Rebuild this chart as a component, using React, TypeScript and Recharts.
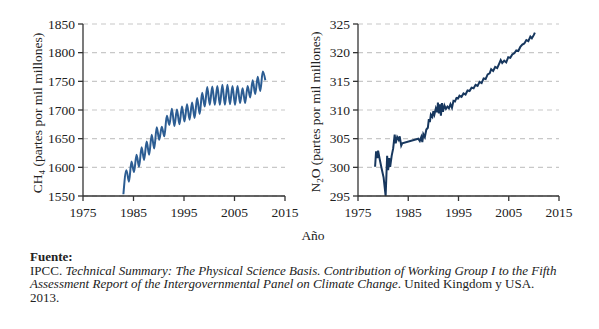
import React from "react";
import {
  LineChart,
  Line,
  XAxis,
  YAxis,
  CartesianGrid,
} from "recharts";

// CH4: one trough (start of year) and one peak (mid-year) per year
const ch4Years = [
  1983, 1984, 1985, 1986, 1987, 1988, 1989, 1990, 1991, 1992, 1993, 1994,
  1995, 1996, 1997, 1998, 1999, 2000, 2001, 2002, 2003, 2004, 2005, 2006,
  2007, 2008, 2009, 2010,
];
const ch4Low = [
  1553, 1575, 1592, 1601, 1613, 1622, 1633, 1648, 1654, 1674, 1672, 1675,
  1680, 1683, 1686, 1693, 1706, 1709, 1709, 1709, 1709, 1710, 1709, 1712,
  1712, 1722, 1728, 1733,
];
const ch4High = [
  1595, 1610, 1622, 1635, 1645, 1657, 1670, 1671, 1690, 1702, 1701, 1706,
  1710, 1713, 1721, 1730, 1740, 1741, 1742, 1744, 1744, 1742, 1742, 1738,
  1742, 1752, 1758, 1767,
];
const ch4End = { year: 2011.1, v: 1752 };

const n2oYears = [
  1978.4, 1978.6, 1978.8, 1979.0, 1979.3, 1979.7, 1980.1, 1980.5, 1980.8, 1981.0,
  1981.2, 1981.4, 1981.7, 1982.0, 1982.3, 1982.5, 1982.8, 1983.1, 1983.3, 1983.6,
  1983.8, 1987.0, 1987.3, 1987.6, 1987.8, 1988.0, 1988.3, 1988.6, 1988.9, 1989.1,
  1989.3, 1989.5, 1989.8, 1990.0, 1990.2, 1990.5, 1990.8, 1990.9, 1991.1, 1991.3,
  1991.5, 1991.7, 1991.9, 1992.2, 1992.5, 1992.8, 1993.1, 1993.4, 1993.7, 1994.0,
  1994.3, 1994.6, 1994.9, 1995.2, 1995.6, 1996.0, 1996.4, 1996.8, 1997.2, 1997.6,
  1998.0, 1998.4, 1998.8, 1999.2, 1999.6, 2000.0, 2000.4, 2000.8, 2001.2, 2001.5,
  2001.9, 2002.3, 2002.7, 2003.1, 2003.4, 2003.7, 2004.1, 2004.5, 2004.9, 2005.3,
  2005.7, 2006.1, 2006.5, 2006.9, 2007.3, 2007.7, 2008.1, 2008.5, 2008.9, 2009.3,
  2009.6, 2010.0, 2010.2,
];
const n2oValues = [
  300.1, 302.8, 301.6, 302.9, 301.5, 299.8, 298.2, 295.0, 302.0, 299.5,
  301.6, 300.1, 302.0, 303.3, 305.7, 304.2, 305.3, 304.8, 305.4, 303.8,
  304.2, 305.0, 304.6, 305.3, 304.4, 305.8, 305.3, 306.6, 306.9, 308.4,
  307.9, 309.2, 308.8, 309.8, 309.2, 310.3, 309.6, 311.3, 309.4, 311.0,
  309.0, 311.2, 309.7, 310.8, 310.2, 310.6, 310.3, 311.0, 310.4, 311.6,
  311.5, 312.1, 312.0, 312.5, 312.3, 312.9, 312.7, 313.4, 313.3, 313.9,
  313.8, 314.4, 314.2, 314.9, 314.7, 315.5, 315.4, 316.2, 316.4, 317.1,
  316.8, 317.5, 317.3, 318.1, 318.7, 318.2, 318.6, 318.3, 319.2, 319.1,
  319.7, 319.9, 320.4, 320.3, 321.0, 321.4, 321.6, 322.2, 322.0, 322.8,
  322.5, 323.1, 323.5,
];

const yearTicks = [1975, 1985, 1995, 2005, 2015];
const ch4Ticks = [1550, 1600, 1650, 1700, 1750, 1800, 1850];
const n2oTicks = [295, 300, 305, 310, 315, 320, 325];

const ch4Data: { year: number; v: number }[] = [];
ch4Years.forEach((y, i) => {
  ch4Data.push({ year: y === 1983 ? y : y + 0.1, v: ch4Low[i] });
  ch4Data.push({ year: y + 0.6, v: ch4High[i] });
});
ch4Data.push(ch4End);

const n2oData = n2oYears.map((y, i) => ({ year: y, v: n2oValues[i] }));

const FONT = "'Liberation Serif', 'Times New Roman', serif";
const AXIS = "#333";
const tickStyle = { fontSize: 13.5, fontFamily: FONT, fill: "#222" };

function AxisTitle({ x, y, main, sub, rest }: any) {
  return (
    <text
      x={x}
      y={y}
      transform={`rotate(-90, ${x}, ${y})`}
      textAnchor="middle"
      fontFamily={FONT}
      fontSize={13.5}
      fill="#222"
    >
      {main}
      <tspan fontSize={9} dy={3}>
        {sub}
      </tspan>
      <tspan dy={-3}>{rest}</tspan>
    </text>
  );
}

function GasChart({
  data,
  ticks,
  color,
  curve,
  yWidth,
  width,
  title,
}: {
  data: { year: number; v: number }[];
  ticks: number[];
  color: string;
  curve: "monotone" | "linear";
  yWidth: number;
  width: number;
  title: React.ReactNode;
}) {
  return (
    <LineChart
      width={width}
      height={230}
      data={data}
      margin={{ top: 24, right: 20, left: 0, bottom: 4 }}
    >
      <CartesianGrid
        horizontal
        vertical={false}
        stroke="#c8c8c8"
        strokeDasharray="5 4"
        strokeWidth={1.2}
      />
      <XAxis
        dataKey="year"
        type="number"
        domain={[1975, 2015]}
        ticks={yearTicks}
        interval={0}
        height={30}
        tick={tickStyle}
        tickSize={5}
        tickMargin={6}
        stroke={AXIS}
        strokeWidth={1.3}
      />
      <YAxis
        type="number"
        domain={[ticks[0], ticks[ticks.length - 1]]}
        allowDataOverflow
        ticks={ticks}
        interval={0}
        width={yWidth}
        tick={tickStyle}
        tickSize={5}
        tickMargin={3}
        stroke={AXIS}
        strokeWidth={1.3}
        label={{ content: () => title }}
      />
      <Line
        type={curve}
        dataKey="v"
        stroke={color}
        strokeWidth={2}
        dot={false}
        isAnimationActive={false}
      />
    </LineChart>
  );
}

export default function App() {
  return (
    <div
      style={{
        position: "absolute",
        left: 0,
        top: 0,
        width: 599,
        height: 329,
        background: "#fff",
        fontFamily: FONT,
      }}
    >
      <div style={{ position: "absolute", left: 0, top: 0 }}>
        <GasChart
          data={ch4Data}
          ticks={ch4Ticks}
          color="#2c5d93"
          curve="monotone"
          yWidth={83}
          width={305}
          title={
            <AxisTitle
              x={42}
              y={113}
              main="CH"
              sub="4"
              rest=" (partes por mil millones)"
            />
          }
        />
      </div>
      <div style={{ position: "absolute", left: 290, top: 0 }}>
        <GasChart
          data={n2oData}
          ticks={n2oTicks}
          color="#17375e"
          curve="linear"
          yWidth={68}
          width={289}
          title={
            <AxisTitle
              x={30}
              y={112}
              main="N"
              sub="2"
              rest="O (partes por mil millones)"
            />
          }
        />
      </div>
      <div
        style={{
          position: "absolute",
          left: 0,
          width: 626,
          top: 228,
          textAlign: "center",
          fontSize: 13.5,
          color: "#222",
        }}
      >
        Año
      </div>
      <div
        style={{
          position: "absolute",
          left: 30,
          top: 250,
          fontSize: 13,
          lineHeight: "13.5px",
          color: "#222",
          whiteSpace: "nowrap",
        }}
      >
        <b>Fuente:</b>
        <br />
        IPCC.{" "}
        <i>
          Technical Summary: The Physical Science Basis. Contribution of
          Working Group I to the Fifth
        </i>
        <br />
        <i>
          Assessment Report of the Intergovernmental Panel on Climate Change
        </i>
        . United Kingdom y USA.
        <br />
        2013.
      </div>
    </div>
  );
}
